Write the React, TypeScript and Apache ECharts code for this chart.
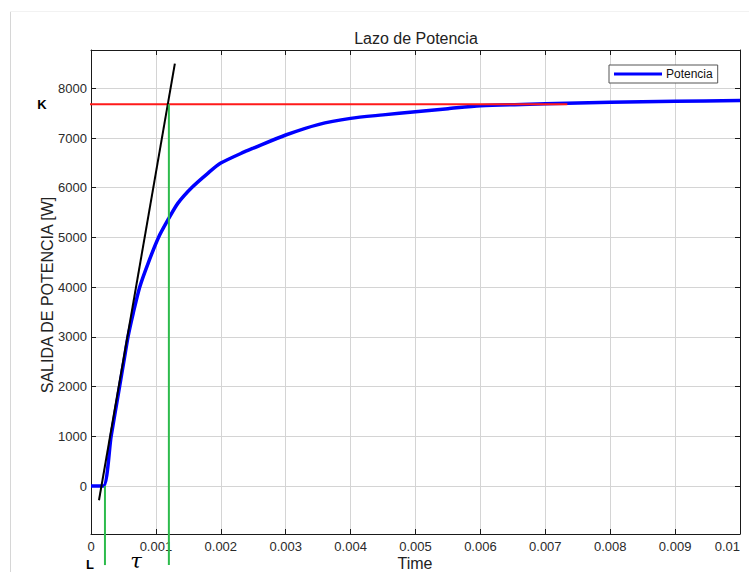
import React, { useEffect, useRef } from "react";
import * as echarts from "echarts";

// Potencia response (time in s, power in W)
const timeValues = [0, 0.00019, 0.00031, 0.00044, 0.00051, 0.00057, 0.00065, 0.00075, 0.00088, 0.00104, 0.0012, 0.00134, 0.00155, 0.0018, 0.002, 0.00237, 0.0025, 0.003, 0.0035, 0.004, 0.0045, 0.005, 0.0055, 0.006, 0.007, 0.008, 0.009, 0.01];
const powerValues = [0, 0, 1000, 2000, 2535, 3000, 3475, 4000, 4480, 5000, 5386, 5690, 6000, 6290, 6495, 6725, 6795, 7060, 7270, 7395, 7465, 7530, 7590, 7648, 7690, 7720, 7740, 7752];

// Annotation construction lines
const kValue = 7680;
const kLineX = [-0.00028, 0.00734];
const tangentX = [0.000123, 0.001292];
const tangentY = [-287, 8496];
const lMarkX = 0.000215;
const tauMarkX = 0.0012;
const markBottom = -1590;

const yTicks = [0, 1000, 2000, 3000, 4000, 5000, 6000, 7000, 8000];
const xMin = 0;
const xMax = 0.01;
const xInterval = 0.001;
const yMin = -965;
const yMax = 8770;

const FONT = "'Liberation Sans', Arial, sans-serif";

export default function App() {
  const ref = useRef<HTMLDivElement>(null);
  useEffect(() => {
    if (!ref.current) return;
    const chart = echarts.init(ref.current, undefined, { renderer: "svg", width: 749, height: 572 });
    const potData = timeValues.map((t, i) => [t, powerValues[i]]);
    const gridColor = "#d4d4d4";
    const axisColor = "#1a1a1a";
    const option: any = {
      animation: false,
      textStyle: { fontFamily: FONT },
      grid: { left: 91, right: 9, top: 50, bottom: 38, show: false, containLabel: false, outerBoundsMode: "none" },
      legend: {
        data: ["Potencia"],
        left: 609,
        top: 65,
        padding: [3, 5],
        itemWidth: 48,
        itemHeight: 3,
        icon: "rect",
        borderColor: "#555",
        borderWidth: 1,
        borderRadius: 0,
        backgroundColor: "#fff",
        itemGap: 5,
        textStyle: { fontSize: 12, color: "#111", fontFamily: FONT, padding: [0, 0, 0, -1] },
      },
      xAxis: [
        {
          type: "value",
          min: xMin,
          max: xMax,
          interval: xInterval,
          axisLine: { show: true, onZero: false, lineStyle: { color: axisColor, width: 1 } },
          axisTick: { show: true, inside: true, length: 5, lineStyle: { color: axisColor } },
          axisLabel: {
            fontSize: 13,
            color: "#2a2a2a",
            margin: 6,
            fontFamily: FONT,
            hideOverlap: false,
            alignMaxLabel: "right",
            formatter: (v: number) => (v === 0 ? "0" : String(parseFloat(v.toFixed(4)))),
          },
          splitLine: { show: true, lineStyle: { color: gridColor, width: 1 } },
        },
        {
          type: "value",
          position: "top",
          min: xMin,
          max: xMax,
          interval: xInterval,
          axisLine: { show: true, onZero: false, lineStyle: { color: axisColor, width: 1 } },
          axisTick: { show: true, inside: true, length: 5, lineStyle: { color: axisColor } },
          axisLabel: { show: false },
          splitLine: { show: false },
        },
      ],
      yAxis: [
        {
          type: "value",
          min: yMin,
          max: yMax,
          axisLine: { show: true, onZero: false, lineStyle: { color: axisColor, width: 1 } },
          axisTick: { show: true, inside: true, length: 5, customValues: yTicks, lineStyle: { color: axisColor } },
          axisLabel: {
            fontSize: 13,
            color: "#2a2a2a",
            margin: 4,
            customValues: yTicks,
            fontFamily: FONT,
            formatter: (v: number) => String(Math.round(v)),
          },
          splitLine: { show: true, lineStyle: { color: gridColor, width: 1 } },
        },
        {
          type: "value",
          position: "right",
          min: yMin,
          max: yMax,
          axisLine: { show: true, onZero: false, lineStyle: { color: axisColor, width: 1 } },
          axisTick: { show: true, inside: true, length: 5, customValues: yTicks, lineStyle: { color: axisColor } },
          axisLabel: { show: false, customValues: yTicks },
          splitLine: { show: false },
        },
      ],
      series: [
        {
          name: "Potencia",
          type: "line",
          data: potData,
          showSymbol: false,
          symbol: "none",
          smooth: 0.25,
          lineStyle: { color: "#0000ff", width: 3.5 },
          itemStyle: { color: "#0000ff" },
          z: 2,
        },
        {
          name: "K",
          type: "line",
          data: kLineX.map((x) => [x, kValue]),
          showSymbol: false,
          symbol: "none",
          clip: false,
          lineStyle: { color: "#ff1a1a", width: 2 },
          z: 3,
        },
        {
          name: "tangente",
          type: "line",
          data: tangentX.map((x, i) => [x, tangentY[i]]),
          showSymbol: false,
          symbol: "none",
          clip: false,
          lineStyle: { color: "#000", width: 2 },
          z: 3,
        },
        {
          name: "L",
          type: "line",
          data: [[lMarkX, 0], [lMarkX, markBottom]],
          showSymbol: false,
          symbol: "none",
          clip: false,
          lineStyle: { color: "#2dbb4c", width: 2 },
          z: 3,
        },
        {
          name: "tau",
          type: "line",
          data: [[tauMarkX, kValue], [tauMarkX, markBottom]],
          showSymbol: false,
          symbol: "none",
          clip: false,
          lineStyle: { color: "#2dbb4c", width: 2 },
          z: 3,
        },
      ],
      graphic: [
        { type: "line", shape: { x1: 10.5, y1: 11, x2: 10.5, y2: 572 }, style: { stroke: "#d6d6d6", lineWidth: 1 }, silent: true },
        { type: "line", shape: { x1: 10, y1: 11.5, x2: 749, y2: 11.5 }, style: { stroke: "#f2f2f2", lineWidth: 1 }, silent: true },
        {
          type: "text",
          x: 416,
          y: 38,
          style: { text: "Lazo de Potencia", font: `16px ${FONT}`, fill: "#222", textAlign: "center", textVerticalAlign: "middle" },
        },
        {
          type: "text",
          x: 47,
          y: 295,
          rotation: Math.PI / 2,
          style: { text: "SALIDA DE POTENCIA [W]", font: `16px ${FONT}`, fill: "#222", textAlign: "center", textVerticalAlign: "middle" },
        },
        {
          type: "text",
          x: 415,
          y: 563,
          style: { text: "Time", font: `16px ${FONT}`, fill: "#222", textAlign: "center", textVerticalAlign: "middle" },
        },
        {
          type: "text",
          x: 42,
          y: 104,
          style: { text: "K", font: `bold 13px ${FONT}`, fill: "#000", textAlign: "center", textVerticalAlign: "middle" },
        },
        {
          type: "text",
          x: 90,
          y: 564,
          style: { text: "L", font: `bold 13px ${FONT}`, fill: "#000", textAlign: "center", textVerticalAlign: "middle" },
        },
        {
          type: "text",
          x: 136,
          y: 561,
          style: { text: "τ", font: `italic 21px 'DejaVu Serif', serif`, fill: "#000", textAlign: "center", textVerticalAlign: "middle" },
        },
      ],
    };
    chart.setOption(option);
    return () => chart.dispose();
  }, []);
  return <div ref={ref} style={{ position: "fixed", left: 0, top: 0, width: 749, height: 572, background: "#fff" }} />;
}
